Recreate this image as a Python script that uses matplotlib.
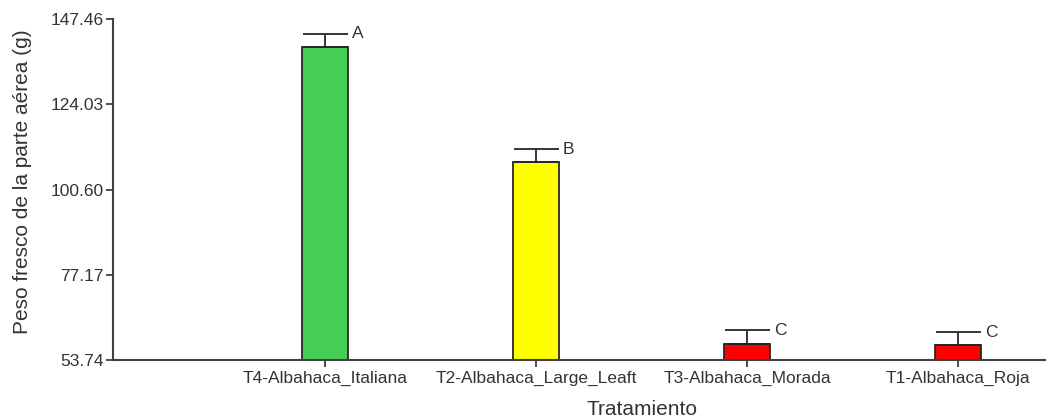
import matplotlib
matplotlib.use("Agg")
import matplotlib.pyplot as plt
import matplotlib.transforms as mtransforms

categories = ["T4-Albahaca_Italiana", "T2-Albahaca_Large_Leaft",
              "T3-Albahaca_Morada", "T1-Albahaca_Roja"]
means = [139.76, 108.07, 58.21, 57.76]
errors = [3.66, 3.57, 3.76, 3.66]
letters = ["A", "B", "C", "C"]
colors = ["#46CD56", "#FFFF00", "#FF0000", "#FF0000"]
yticks = [53.74, 77.17, 100.60, 124.03, 147.46]
ytick_labels = ["53.74", "77.17", "100.60", "124.03", "147.46"]

plt.rcParams['font.family'] = ['Liberation Sans', 'DejaVu Sans']
txt = "#333333"
axc = "#404040"

fig = plt.figure(figsize=(10.46, 4.2), dpi=100)
ax = fig.add_axes([113/1046, 60/420, 933/1046, 341/420])

x = list(range(len(categories)))
base = yticks[0]
heights = [m - base for m in means]
ax.bar(x, heights, bottom=base, width=0.215, color=colors,
       edgecolor="#262626", linewidth=1.3, zorder=2)
ax.errorbar(x, means, yerr=[[0]*len(errors), errors], fmt="none",
            ecolor="#262626", elinewidth=1.3, capsize=16.2, capthick=1.3, zorder=3)
for xi, m, e, l in zip(x, means, errors, letters):
    ax.annotate(l, xy=(xi + 0.108, m + e), xytext=(3, 0), textcoords="offset points",
                ha="left", va="center", fontsize=12.5, color=txt)

ax.set_xlim(-1.005, 3.417)
ax.set_ylim(yticks[0], yticks[-1])
ax.set_yticks(yticks)
ax.set_yticklabels(ytick_labels)
ax.set_xticks(x)
ax.set_xticklabels(categories)

for s in ["top", "right"]:
    ax.spines[s].set_visible(False)
for s in ["left", "bottom"]:
    ax.spines[s].set_color(axc)
    ax.spines[s].set_linewidth(1.5)

ax.tick_params(axis="both", colors=axc, labelcolor=txt, labelsize=12.5,
               length=5, width=1.3)
ax.tick_params(axis="y", pad=1.5)
ax.tick_params(axis="x", pad=3)

ax.set_ylabel("Peso fresco de la parte aérea (g)", fontsize=15, color=txt)
ax.yaxis.set_label_coords(-(113 - 32)/933, 0.523)
ax.set_xlabel("Tratamiento", fontsize=15, color=txt)
trans = mtransforms.blended_transform_factory(ax.transData, ax.transAxes)
ax.xaxis.set_label_coords(1.5, -0.118, transform=trans)

fig.savefig("out.png", dpi=100)
